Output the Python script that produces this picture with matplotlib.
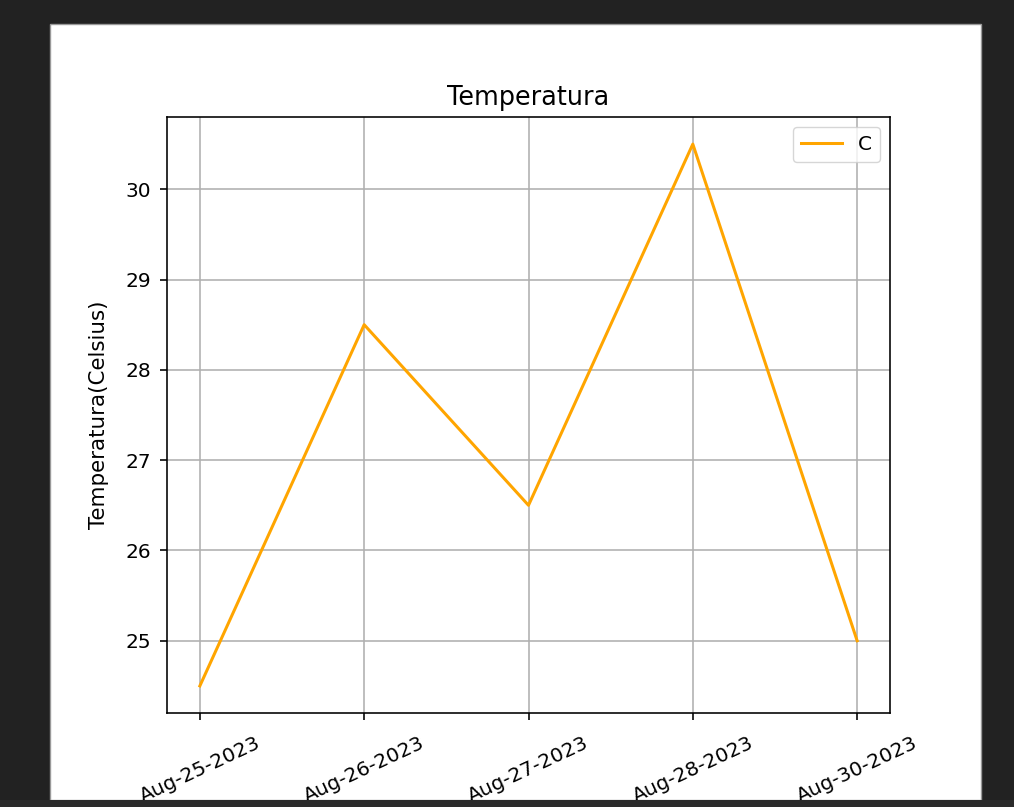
#!/usr/bin/env python3
"""Temperatura: daily temperature line chart (screenshot-style frame)."""
import matplotlib
matplotlib.use("Agg")
import matplotlib.pyplot as plt
from matplotlib.patches import Rectangle

DATES = ["Aug-25-2023", "Aug-26-2023", "Aug-27-2023", "Aug-28-2023", "Aug-30-2023"]
TEMPS_C = [24.5, 28.5, 26.5, 30.5, 25.0]

SCALE = 1.45
plt.rcParams["font.size"] = 10 * SCALE

fig = plt.figure(figsize=(10.14, 8.07), dpi=100, facecolor="#222222")
# white "window" of the screenshot
fig.add_artist(Rectangle((50 / 1014, 7 / 807), 931 / 1014, 776 / 807,
                         transform=fig.transFigure, facecolor="white",
                         edgecolor="#999999", lw=1, zorder=-1))
ax = fig.add_axes([167 / 1014, 94 / 807, 723 / 1014, 596 / 807])

ax.plot(DATES, TEMPS_C, color="orange", lw=1.5 * SCALE, label="C")
ax.set_title("Temperatura", fontsize=18.4, pad=6 * SCALE)
ax.set_ylabel("Temperatura(Celsius)", fontsize=15.4, labelpad=12)
ax.tick_params(axis="x", rotation=25, length=3.5 * SCALE, width=0.8 * SCALE,
               pad=9.5)
ax.tick_params(axis="y", length=3.5 * SCALE, width=0.8 * SCALE, pad=6.5)
for s in ax.spines.values():
    s.set_linewidth(0.8 * SCALE)
ax.grid(True, color="#b0b0b0", lw=0.8 * SCALE)
ax.legend(loc="upper right")

# bottom strip of the screenshot covers the lower part of the tick labels
fig.add_artist(Rectangle((0, 0), 1, 7 / 807, transform=fig.transFigure,
                         facecolor="#2b2b2b", edgecolor="none", zorder=10))

fig.savefig("out.png", dpi=100, facecolor=fig.get_facecolor())
